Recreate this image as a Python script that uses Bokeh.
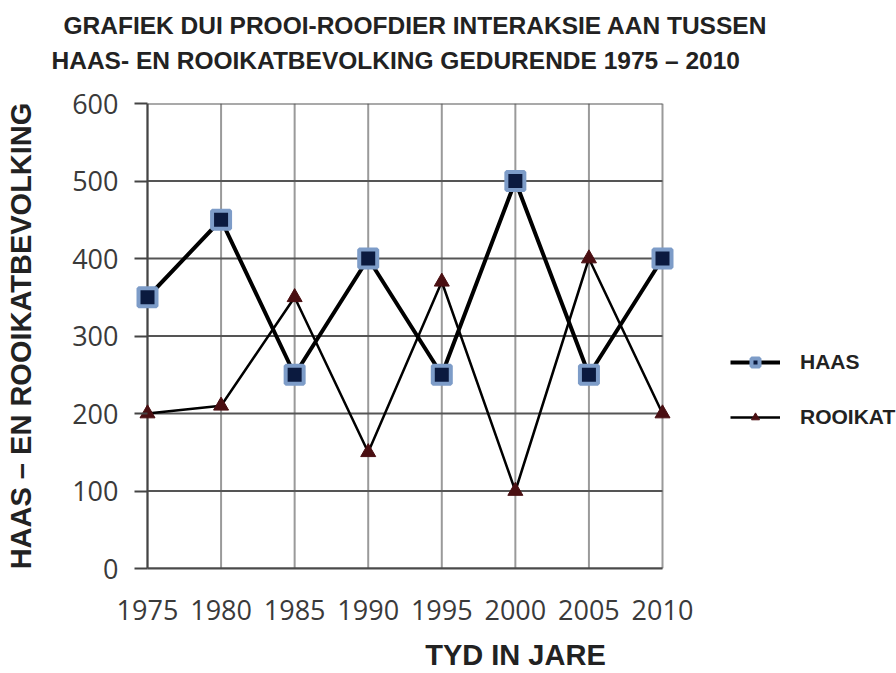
from bokeh.plotting import figure
from bokeh.models import Range1d, FixedTicker, Legend, LegendItem, Title
from bokeh.embed import file_html
from bokeh.resources import INLINE

years = [1975, 1980, 1985, 1990, 1995, 2000, 2005, 2010]
haas = [350, 450, 250, 400, 250, 500, 250, 400]
rooikat = [200, 210, 350, 150, 370, 100, 400, 200]
y_ticks = [0, 100, 200, 300, 400, 500, 600]
title_lines = ["GRAFIEK DUI PROOI-ROOFDIER INTERAKSIE AAN TUSSEN",
               "HAAS- EN ROOIKATBEVOLKING GEDURENDE 1975 \u2013 2010"]
x_title = "TYD IN JARE"
y_title = "HAAS \u2013 EN ROOIKATBEVOLKING"

W, H = 896, 673
AX_L = 147            # canvas x of first year
AX_R = 662            # canvas x of last year
PADL = 13             # frame starts a bit left of the first year so markers are not cut
FT, FB = 103, 569     # frame top / bottom
FL = AX_L - PADL
FW = W - FL
scale = (AX_R - AX_L) / (years[-1] - years[0])

p = figure(width=W, height=H, output_backend="svg", toolbar_location=None,
           x_range=Range1d(years[0] - PADL / scale, years[-1] + (W - AX_R) / scale),
           y_range=Range1d(y_ticks[0], y_ticks[-1]),
           min_border_left=FL, min_border_top=FT,
           min_border_right=0, min_border_bottom=H - FB)
p.outline_line_color = None
p.background_fill_color = "white"
p.border_fill_color = "white"
p.xgrid.visible = False
p.ygrid.visible = False

# grid lines limited to the data extent
p.segment(x0=years, x1=years, y0=y_ticks[0], y1=y_ticks[-1],
          line_color="#9a9a9a", line_width=2)
p.segment(x0=years[0], x1=years[-1], y0=y_ticks, y1=y_ticks,
          line_color="#555555", line_width=2)
# value axis line at the first year
p.segment(x0=years[0], x1=years[0], y0=y_ticks[0], y1=y_ticks[-1],
          line_color="#444444", line_width=2)

p.xaxis.ticker = FixedTicker(ticks=years)
p.yaxis.ticker = FixedTicker(ticks=y_ticks)
for ax in (p.xaxis[0], p.yaxis[0]):
    ax.major_label_text_font = "Open Sans"
    ax.major_label_text_font_size = "27px"
    ax.major_label_text_color = "#3a3a3a"
    ax.minor_tick_line_color = None
    ax.axis_line_width = 2
    ax.axis_label_text_font = "Liberation Sans"
    ax.axis_label_text_font_style = "bold"
    ax.axis_label_text_font_size = "29px"
    ax.axis_label_text_color = "#222222"
p.xaxis.bounds = (years[0], years[-1])
p.xaxis.axis_line_color = "#4a4a4a"
p.xaxis.major_tick_line_color = None
p.xaxis.major_label_standoff = 25
p.xaxis.axis_label = x_title
p.xaxis.axis_label_standoff = 16
p.yaxis.axis_line_color = None
p.yaxis.major_tick_line_color = "#444444"
p.yaxis.major_tick_line_width = 2
p.yaxis.major_tick_out = 0
p.yaxis.major_tick_in = PADL
p.yaxis.major_label_standoff = 16
p.yaxis.axis_label = y_title
p.yaxis.axis_label_standoff = 32

l1 = p.line(years, haas, line_color="black", line_width=4)
s1 = p.scatter(years, haas, marker="square", size=18, fill_color="#0b1a3f",
               line_color="#7d9cc8", line_width=4)
l2 = p.line(years, rooikat, line_color="black", line_width=2.5)
s2 = p.scatter(years, rooikat, marker="triangle", size=15, fill_color="#4a0f12",
               line_color="#4a0f12", line_width=1)

legend = Legend(items=[LegendItem(label="HAAS", renderers=[l1, s1]),
                       LegendItem(label="ROOIKAT", renderers=[l2, s2])],
                location=(730 - FL, 139), padding=0, margin=0, spacing=31,
                glyph_width=50, glyph_height=20, label_height=20,
                label_standoff=20, border_line_color=None,
                background_fill_alpha=0,
                label_text_font="Liberation Sans", label_text_font_style="bold",
                label_text_font_size="21px", label_text_color="#222222")
p.add_layout(legend, "center")

t2 = Title(text=title_lines[1], align="left", offset=51 - FL,
           text_font="Liberation Sans", text_font_style="bold",
           text_font_size="24.5px", text_color="#222222", standoff=59)
t1 = Title(text=title_lines[0], align="left", offset=63 - FL,
           text_font="Liberation Sans", text_font_style="bold",
           text_font_size="24.5px", text_color="#222222", standoff=-47)
p.add_layout(t2, "above")
p.add_layout(t1, "above")

open("out.html", "w").write(file_html(p, INLINE))
